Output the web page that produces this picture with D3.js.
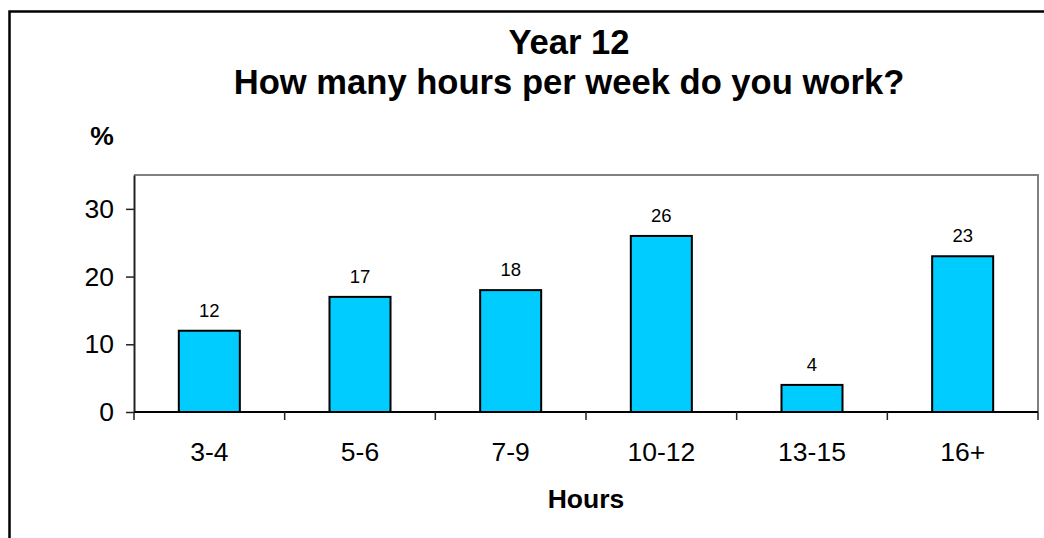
<!DOCTYPE html>
<html>
<head>
<meta charset="utf-8">
<script src="https://cdn.jsdelivr.net/npm/d3@7"></script>
<style>
  body { margin: 0; background: #fff; }
  svg { display: block; font-family: "Liberation Sans", Arial, sans-serif; }
</style>
</head>
<body>
<div id="chart"></div>
<script>
// chart data
const categories = ["3-4", "5-6", "7-9", "10-12", "13-15", "16+"];
const values = [12, 17, 18, 26, 4, 23];
const yTicks = [0, 10, 20, 30];
const titleLines = ["Year 12", "How many hours per week do you work?"];

const width = 1044;
const height = 538;
const margin = { top: 175, right: 6, bottom: 126, left: 134 };
const innerW = width - margin.left - margin.right;
const innerH = height - margin.top - margin.bottom;

const svg = d3.select("#chart")
    .append("svg")
    .attr("width", width)
    .attr("height", height);

// outer frame, runs off the right and bottom edge
svg.append("rect")
    .attr("x", 9.5)
    .attr("y", 11.5)
    .attr("width", width + 20)
    .attr("height", height + 20)
    .attr("fill", "none")
    .attr("stroke", "#000")
    .attr("stroke-width", 2.5);

// title
svg.append("g")
    .selectAll("text")
    .data(titleLines)
    .enter()
    .append("text")
    .attr("x", 569)
    .attr("y", (d, i) => 54 + i * 40)
    .attr("text-anchor", "middle")
    .style("font-size", "34.6px")
    .style("font-weight", "bold")
    .text((d) => d);

const g = svg.append("g")
    .attr("transform", "translate(" + margin.left + "," + margin.top + ")");

const x = d3.scaleBand()
    .domain(categories)
    .range([0, innerW])
    .paddingInner(0.595)
    .paddingOuter(0.2975);

const y = d3.scaleLinear()
    .domain([0, 35])
    .range([innerH, 0]);

// top and right border of the plot area
g.append("path")
    .attr("d", "M0,0H" + innerW + "V" + innerH)
    .attr("fill", "none")
    .attr("stroke", "#808080")
    .attr("stroke-width", 2);

// bars
g.selectAll("rect.bar")
    .data(values)
    .enter()
    .append("rect")
    .attr("class", "bar")
    .attr("x", (d, i) => x(categories[i]))
    .attr("y", (d) => y(d))
    .attr("width", x.bandwidth())
    .attr("height", (d) => y(0) - y(d))
    .attr("fill", "#00CCFF")
    .attr("stroke", "#000")
    .attr("stroke-width", 2);

// value labels
g.selectAll("text.val")
    .data(values)
    .enter()
    .append("text")
    .attr("class", "val")
    .attr("x", (d, i) => x(categories[i]) + x.bandwidth() / 2)
    .attr("y", (d) => y(d) - 14)
    .attr("text-anchor", "middle")
    .style("font-size", "18.5px")
    .text((d) => d);

// y axis
const yAxis = g.append("g")
    .call(d3.axisLeft(y).tickValues(yTicks).tickSize(8).tickPadding(12).tickSizeOuter(0));
yAxis.select(".domain").attr("stroke", "#222").attr("stroke-width", 2);
yAxis.selectAll(".tick line").attr("stroke", "#222").attr("stroke-width", 1.5);
yAxis.selectAll(".tick text")
    .style("font-size", "26.5px")
    .attr("font-family", null)
    .attr("fill", "#000");

// x axis: ticks sit on the category boundaries
const step = x.step();
const bounds = d3.range(categories.length + 1).map((i) => i * step);
const xAxis = g.append("g").attr("transform", "translate(0," + innerH + ")");
xAxis.append("line")
    .attr("x1", 0)
    .attr("x2", innerW)
    .attr("stroke", "#000")
    .attr("stroke-width", 2);
xAxis.selectAll("line.tick")
    .data(bounds)
    .enter()
    .append("line")
    .attr("class", "tick")
    .attr("x1", (d) => d)
    .attr("x2", (d) => d)
    .attr("y1", 0)
    .attr("y2", 8)
    .attr("stroke", "#222")
    .attr("stroke-width", 1.5);
xAxis.selectAll("text")
    .data(categories)
    .enter()
    .append("text")
    .attr("x", (d) => x(d) + x.bandwidth() / 2)
    .attr("y", 49)
    .attr("text-anchor", "middle")
    .style("font-size", "26.5px")
    .text((d) => d);

// axis titles
svg.append("text")
    .attr("x", 586)
    .attr("y", 508)
    .attr("text-anchor", "middle")
    .style("font-size", "26.5px")
    .style("font-weight", "bold")
    .text("Hours");

svg.append("text")
    .attr("x", 102)
    .attr("y", 145)
    .attr("text-anchor", "middle")
    .style("font-size", "26.5px")
    .style("font-weight", "bold")
    .text("%");
</script>
</body>
</html>
